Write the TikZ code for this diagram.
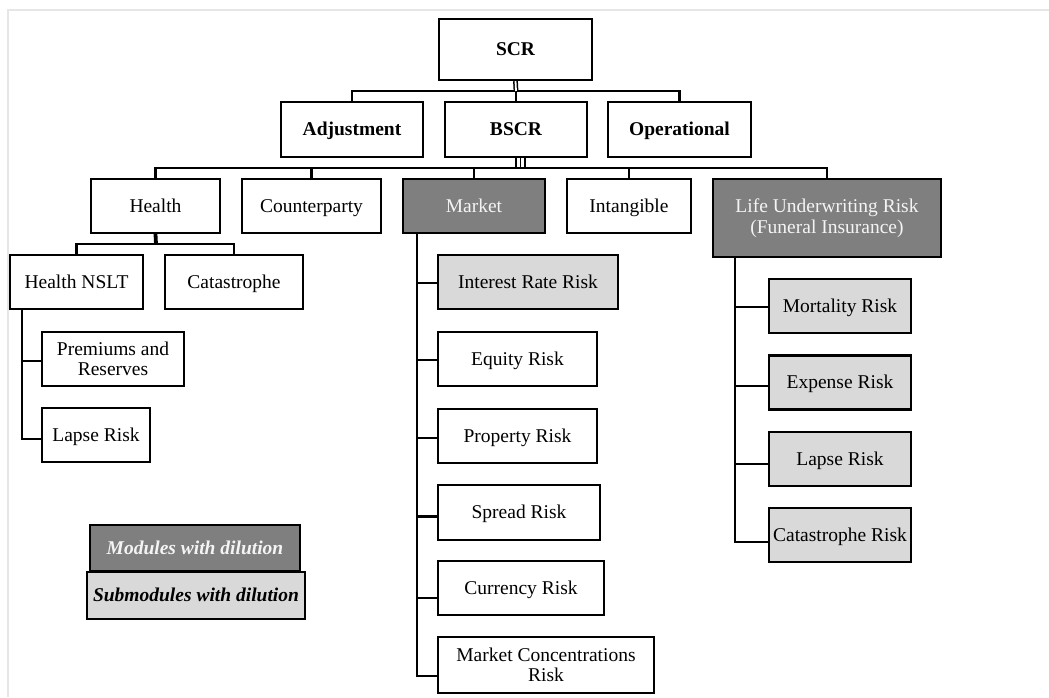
\documentclass[tikz,border=0pt]{standalone}
\usepackage{fontspec}
\setmainfont{Liberation Serif}
\usetikzlibrary{calc}
\definecolor{darkfill}{HTML}{7F7F7F}
\definecolor{lightfill}{HTML}{D9D9D9}
\definecolor{framec}{HTML}{E6E6E6}
\definecolor{lighttext}{HTML}{F4F4F4}
\tikzset{
  box/.style={draw=black, line width=2.3pt, rectangle, inner sep=0pt, align=center, fill=white,
    font=\fontsize{19.5}{20.5}\selectfont, text height=13.6pt, text depth=0.8pt},
  multi/.style={text height={}, text depth={}},
  boldbox/.style={box, font=\fontsize{19.5}{20.5}\selectfont\bfseries},
  darkbox/.style={box, fill=darkfill, text=lighttext},
  lightbox/.style={box, fill=lightfill},
  conn/.style={draw=black, line width=2.2pt},
  dconn/.style={draw=black, line width=1.5pt, double=white, double distance=1.8pt},
}
\begin{document}
\begin{tikzpicture}[x=1pt,y=-1pt]
\useasboundingbox (0,0) rectangle (1049,697);
\draw[framec, line width=1.5pt] (8,697) -- (8,10) -- (1049,10);

% level 0 / 1
\node[boldbox, minimum width=153, minimum height=61] (scr) at (515.5,49.5) {SCR};
\node[boldbox, minimum width=142, minimum height=55] (adj) at (352,129.5) {Adjustment};
\node[boldbox, minimum width=142, minimum height=55] (bscr) at (516,129.5) {BSCR};
\node[boldbox, minimum width=143, minimum height=55] (oper) at (679.5,129.5) {Operational};

% level 2
\node[box, minimum width=129, minimum height=54] (health) at (155.5,206) {Health};
\node[box, minimum width=139, minimum height=54] (counter) at (311.5,206) {Counterparty};
\node[darkbox, minimum width=142, minimum height=54] (market) at (474,206) {Market};
\node[box, minimum width=124, minimum height=54] (intang) at (629,206) {Intangible};
\node[darkbox, multi, minimum width=228, minimum height=78] (life) at (827,218) {Life Underwriting Risk\\(Funeral Insurance)};

% health subtree
\node[box, minimum width=133, minimum height=54] (nslt) at (76.5,282) {Health NSLT};
\node[box, minimum width=138, minimum height=54] (cat) at (234,282) {Catastrophe};
\node[box, multi, minimum width=142, minimum height=54] (prem) at (113,359) {Premiums and\\Reserves};
\node[box, minimum width=108, minimum height=54] (lapsea) at (96,435) {Lapse Risk};

% market subtree
\node[lightbox, minimum width=180, minimum height=54] (irr) at (528,282) {Interest Rate Risk};
\node[box, minimum width=159, minimum height=54] (eq) at (517.5,359) {Equity Risk};
\node[box, minimum width=159, minimum height=54] (prop) at (517.5,436) {Property Risk};
\node[box, minimum width=162, minimum height=55] (spread) at (519,512.5) {Spread Risk};
\node[box, minimum width=166, minimum height=54] (curr) at (521,588) {Currency Risk};
\node[box, multi, minimum width=216, minimum height=56] (mc) at (546,665) {Market Concentrations\\Risk};

% life subtree
\node[lightbox, minimum width=142, minimum height=54] (mort) at (840,306) {Mortality Risk};
\node[lightbox, minimum width=142, minimum height=54] (exp) at (840,382.5) {Expense Risk};
\node[lightbox, minimum width=142, minimum height=54] (lapseb) at (840,459) {Lapse Risk};
\node[lightbox, minimum width=142, minimum height=54] (catr) at (840,535) {Catastrophe Risk};

% legend
\node[darkbox, minimum width=210, minimum height=46, font=\fontsize{19.5}{20.5}\selectfont\bfseries\itshape] (leg1) at (195,548) {Modules with dilution};
\node[lightbox, minimum width=218, minimum height=47, font=\fontsize{19.5}{20.5}\selectfont\bfseries\itshape] (leg2) at (196,595.5) {Submodules with dilution};

% connectors level 0-1
\coordinate (h1) at (516,91);
\draw[conn] (adj.north) |- (h1) -| (oper.north);
\draw[conn] (h1) -- (bscr.north);
\draw[dconn] (scr.south) -- (h1);

% connectors level 1-2
\coordinate (h2) at (516,168);
\draw[conn] (health.north) |- (h2) -| (life.north);
\draw[conn] (counter.north) -- (counter.north |- h2);
\draw[conn] (market.north) -- (market.north |- h2);
\draw[conn] (intang.north) -- (intang.north |- h2);
\foreach \dx in {0,4.5,9} {
  \draw[draw=black, line width=1.4pt] ([xshift=\dx pt]bscr.south) -- ([xshift=\dx pt]bscr.south |- h2);
}

% health subtree connectors
\coordinate (h3) at (156,244);
\draw[conn] (nslt.north) |- (h3) -| (cat.north);
\draw[draw=black, line width=3.8pt] (health.south) -- (h3);
\coordinate (s1) at ($(nslt.south west)+(13,0)$);
\draw[conn] (s1) |- ([yshift=-2pt]prem.west);
\draw[conn] (s1) |- ([yshift=-4pt]lapsea.west);

% market subtree connectors
\coordinate (s2) at ($(market.south west)+(15,0)$);
\draw[conn] (s2) |- ([yshift=-1pt]irr.west);
\draw[conn] (s2) |- ([yshift=-1pt]eq.west);
\draw[conn] (s2) |- ([yshift=-2pt]prop.west);
\draw[conn] (s2) |- ([yshift=-4pt]spread.west);
\draw[conn] (s2) |- ([yshift=-10pt]curr.west);
\draw[conn] (s2) |- ([yshift=-11pt]mc.west);

% life subtree connectors
\coordinate (s3) at ($(life.south west)+(23,0)$);
\draw[conn] (s3) |- ([yshift=-1pt]mort.west);
\draw[conn] (s3) |- ([yshift=-3.5pt]exp.west);
\draw[conn] (s3) |- ([yshift=-5pt]lapseb.west);
\draw[conn] (s3) |- ([yshift=-7pt]catr.west);
\end{tikzpicture}
\end{document}
